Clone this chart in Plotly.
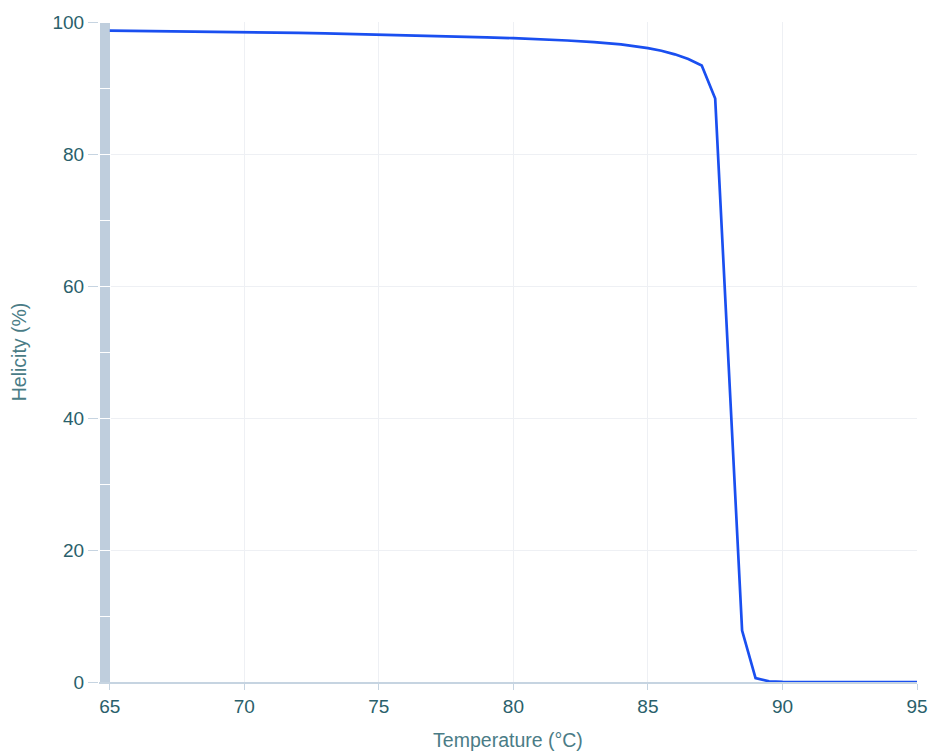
import plotly.graph_objects as go

temps = [65, 66, 67, 68, 69, 70, 71, 72, 73, 74, 75, 76, 77, 78, 79, 80,
         81, 82, 83, 84, 85, 85.5, 86, 86.5, 87, 87.5, 88, 88.5, 89, 89.5,
         90, 91, 92, 93, 94, 95]
helicity = [98.7, 98.66, 98.62, 98.57, 98.52, 98.46, 98.4, 98.34, 98.27, 98.19,
            98.1, 98.0, 97.9, 97.8, 97.68, 97.55, 97.4, 97.2, 96.95, 96.6,
            96.05, 95.65, 95.1, 94.4, 93.4, 88.4, 48.0, 7.8, 0.6, 0.1,
            0.03, 0.0, 0.0, 0.0, 0.0, 0.0]

bar_x = [64.82]
bar_segments = [10] * 10

fig = go.Figure()
for seg in bar_segments:
    fig.add_trace(go.Bar(x=bar_x, y=[seg], width=0.44,
                         marker=dict(color="#bfcedd", line=dict(color="white", width=1)),
                         showlegend=False, hoverinfo="skip"))

fig.add_trace(go.Scatter(x=temps, y=helicity, mode="lines",
                         line=dict(color="#1a4ff0", width=2.7), showlegend=False))

fig.update_layout(
    barmode="stack",
    width=932, height=753,
    margin=dict(l=99, r=15, t=22, b=71),
    plot_bgcolor="white", paper_bgcolor="white",
    font=dict(family="Liberation Sans, Arial, sans-serif", size=19, color="#2a5f6b"),
)
fig.update_xaxes(range=[64.6, 95], tickvals=[65, 70, 75, 80, 85, 90, 95],
                 automargin=False,
                 showgrid=True, gridcolor="#eef0f4", gridwidth=1,
                 showline=True, linecolor="#c6d4e1", linewidth=1.5,
                 ticks="outside", ticklen=6, tickcolor="#c6d4e1",
                 zeroline=False, tickfont=dict(size=19),
                 title=dict(text="Temperature (°C)", font=dict(color="#4a7c86", size=19.5), standoff=18))
fig.update_yaxes(range=[0, 100], tickvals=[0, 20, 40, 60, 80, 100],
                 automargin=False,
                 showgrid=True, gridcolor="#eef0f4", gridwidth=1,
                 showline=False, zeroline=False,
                 ticks="outside", ticklen=10, tickcolor="#c6d4e1", tickfont=dict(size=19),
                 title=dict(text="Helicity (%)", font=dict(color="#4a7c86", size=19.5), standoff=20))

fig.write_html("out.html")
